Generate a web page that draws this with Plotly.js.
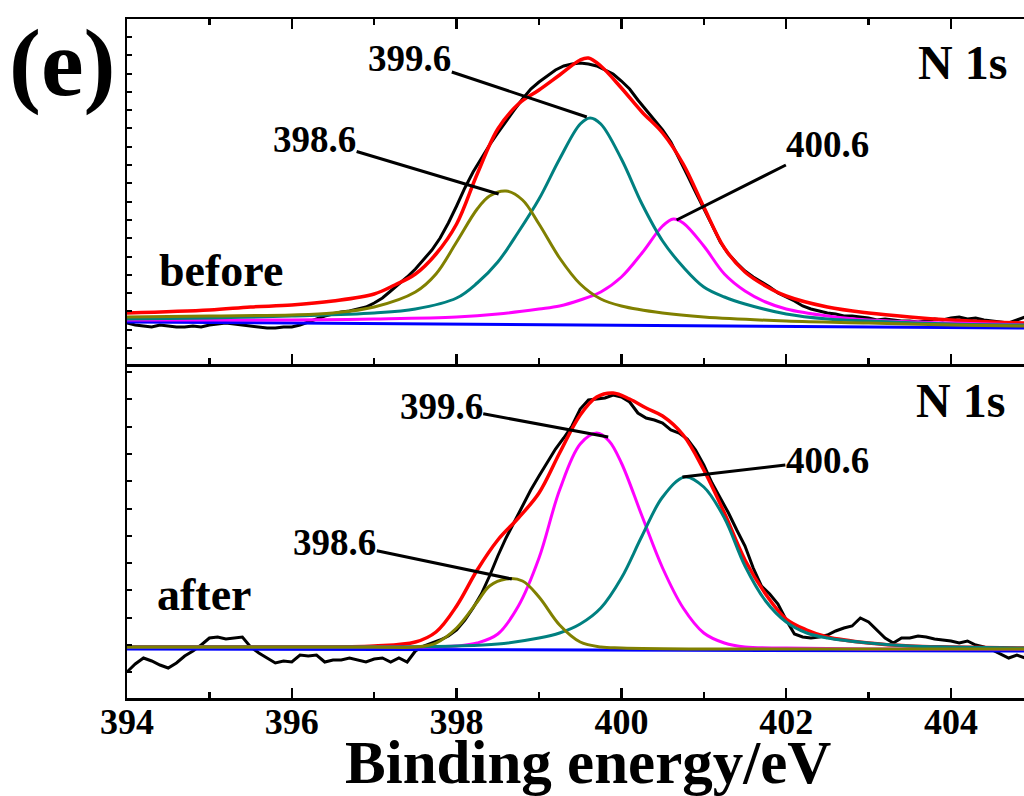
<!DOCTYPE html>
<html>
<head>
<meta charset="utf-8">
<script src="https://cdn.plot.ly/plotly-3.0.1.min.js"></script>
<style>html,body{margin:0;padding:0;background:#fff;}#chart{width:1024px;height:796px;}</style>
</head>
<body>
<div id="chart"></div>
<script>
// ---------- DATA ----------
// shared energy grid of the measured spectra (eV)
const energyGrid = [394.0,394.1,394.2,394.3,394.4,394.5,394.6,394.7,394.8,394.9,
395.0,395.1,395.2,395.3,395.4,395.5,395.6,395.7,395.8,395.9,
396.0,396.1,396.2,396.3,396.4,396.5,396.6,396.7,396.8,396.9,
397.0,397.1,397.2,397.3,397.4,397.5,397.6,397.7,397.8,397.9,
398.0,398.1,398.2,398.3,398.4,398.5,398.6,398.7,398.8,398.9,
399.0,399.1,399.2,399.3,399.4,399.5,399.6,399.7,399.8,399.9,
400.0,400.1,400.2,400.3,400.4,400.5,400.6,400.7,400.8,400.9,
401.0,401.1,401.2,401.3,401.4,401.5,401.6,401.7,401.8,401.9,
402.0,402.1,402.2,402.3,402.4,402.5,402.6,402.7,402.8,402.9,
403.0,403.1,403.2,403.3,403.4,403.5,403.6,403.7,403.8,403.9,
404.0,404.1,404.2,404.3,404.4,404.5,404.6,404.7,404.8,404.9];

// "before" panel (arbitrary intensity units)
const beforeMeasured = [41,39,38,37,39,38,37,37,38,37,
39,40,41,40,39,38,37,36,36,37,
37,39,42,45,48,50,52,53,55,57,
61,66,73,80,87,95,104,114,126,141,
158,176,192,206,219,231,243,254,265,275,
282,288,294,298,300,301,300,298,294,290,
283,275,264,254,243,234,222,206,189,172,
156,139,122,110,101,93,87,82,77,71,
67,63,58,55,53,51,50,48,48,47,
46,44,45,44,43,43,42,43,45,44,
46,47,45,46,44,43,42,41,44,47];

const beforeEnvE = [394,395,395.5,396,396.5,397,397.25,397.5,397.75,398,398.25,398.5,398.75,399,399.25,399.5,399.6,399.75,400,400.25,400.5,400.75,401,401.25,401.5,401.75,402,402.5,403,403.5,404,404.5,404.9];
const beforeEnvI = [51,54,57,59,63,70,79,90,110,140,190,235,260,274,289,304,306,298,276,252,231,200,157,116,92,78,68,57,51,47,44,42,41];

const before3986E = [394,395,396,396.5,397,397.5,397.75,398,398.25,398.4,398.6,398.8,399,399.25,399.5,399.75,400,400.5,401,402,403,404,404.9];
const before3986I = [47,48,49,51,57,72,90,122,155,168,173,164,140,106,80,65,58,51,47,43,41,39,38];

const before3996E = [394,395,396,397,397.5,398,398.25,398.5,398.75,399,399.25,399.5,399.62,399.75,400,400.25,400.5,400.75,401,401.25,401.5,402,402.5,403,404,404.9];
const before3996I = [45,46,48,51,55,66,81,102,132,165,205,240,246,240,205,160,123,97,77,67,60,50,45,43,40,39];

const before4006E = [394,396,397,398,398.5,399,399.25,399.5,399.75,400,400.25,400.5,400.63,400.75,401,401.25,401.5,401.75,402,402.5,403,404,404.9];
const before4006I = [44,44,45,47,50,55,58,64,72,87,111,138,145,141,118,90,73,62,55,48,44,41,39];

const beforeBaseE = [394,404.9];
const beforeBaseI = [42,36];

// "after" panel (arbitrary intensity units)
const afterMeasured = [26,34,40,37,33,30,35,42,47,53,
60,61,59,60,61,51,45,40,35,37,
36,43,42,43,36,38,38,40,38,36,
39,40,36,40,36,47,52,55,58,62,
68,78,90,104,122,142,160,176,192,208,
222,236,249,260,272,289,298,299,300,303,
301,296,285,280,278,275,268,265,259,248,
233,215,200,185,168,152,130,112,104,94,
78,64,61,60,61,63,67,70,72,80,
76,68,60,55,60,60,62,61,59,58,
57,55,57,53,51,48,44,40,43,40];

const afterEnvE = [394,396,397,397.5,397.75,398,398.25,398.5,398.75,399,399.25,399.5,399.7,399.9,400.1,400.3,400.5,400.75,401,401.25,401.5,401.75,402,402.25,402.5,403,403.5,404,404.9];
const afterEnvI = [51,51,52,56,66,92,128,158,180,205,245,283,301,305,299,290,282,263,228,185,138,104,79,68,61,55,52,51,50];

const after3986E = [394,397,397.5,397.75,398,398.25,398.4,398.6,398.8,399,399.25,399.5,399.75,400,401,402,403,404,404.9];
const after3986I = [51,51,51,55,70,96,112,119,117,101,73,56,51,50,49,49,49,49,49];

const after3996E = [394,397.5,398,398.25,398.5,398.75,399,399.25,399.5,399.7,399.85,400,400.25,400.5,400.75,401,401.25,401.5,402,403,404.9];
const after3996I = [51,51,52,55,64,92,140,208,254,265,257,235,182,130,90,65,55,51,50,49,49];

const after4006E = [394,397,398,398.5,399,399.25,399.5,399.75,400,400.25,400.5,400.77,401,401.25,401.5,401.75,402,402.25,402.5,403,403.5,404,404.9];
const after4006I = [51,51,52,54,60,65,74,90,120,162,201,221,211,180,132,97,76,65,60,55,52,51,50];

const afterBaseE = [394,404.9];
const afterBaseI = [49,47];

// peak labels and where their leader lines touch the curves
const peakLabels = ['398.6','399.6','400.6'];
const beforePointerE = [398.51, 399.58, 400.67];
const beforePointerI = [170, 247, 144];
const afterPointerE  = [398.67, 399.84, 400.74];
const afterPointerI  = [119, 261, 221];

const panelNames = ['before','after'];
const coreLevel = 'N 1s';
const panelTag = '(e)';
const xTitle = 'Binding energy/eV';
const xRange = [394, 404.886];

// ---------- STYLE ----------
const FONT = '"Liberation Serif", "Times New Roman", Times, serif';
const C = {env:'#FF0000', data:'#000000', p1:'#808000', p2:'#008080', p3:'#FF00FF', base:'#0000FF'};

function line(x, y, color, w, ax, shape){
  return {x:x, y:y, type:'scatter', mode:'lines', xaxis:ax[0], yaxis:ax[1],
    line:{color:color, width:w, shape:shape||'spline', smoothing:1}, hoverinfo:'skip'};
}
const TOP = ['x2','y2'], BOT = ['x','y'];

const traces = [
  line(energyGrid, beforeMeasured, C.data, 3, TOP, 'linear'),
  line(beforeEnvE, beforeEnvI, C.env, 3.5, TOP),
  line(beforeBaseE, beforeBaseI, C.base, 3, TOP, 'linear'),
  line(before4006E, before4006I, C.p3, 3, TOP),
  line(before3996E, before3996I, C.p2, 3, TOP),
  line(before3986E, before3986I, C.p1, 3, TOP),

  line(energyGrid, afterMeasured, C.data, 3, BOT, 'linear'),
  line(afterEnvE, afterEnvI, C.env, 3.5, BOT),
  line(afterBaseE, afterBaseI, C.base, 3, BOT, 'linear'),
  line(after3996E, after3996I, C.p3, 3, BOT),
  line(after4006E, after4006I, C.p2, 3, BOT),
  line(after3986E, after3986I, C.p1, 3, BOT)
];

// geometry helpers (page pixels -> paper coordinates)
const L = 127, R = 0, T = 19, B = 98, W = 1024, H = 796;
const PW = W - L - R, PH = H - T - B;
const px = v => (v - L) / PW;
const py = v => (H - B - v) / PH;
const split = py(364);

function txt(text, x, y, size){
  return {text:'<b>'+text+'</b>', x:px(x), y:py(y), xref:'paper', yref:'paper',
    showarrow:false, xanchor:'center', yanchor:'middle', borderpad:0,
    font:{family:FONT, size:size, color:'black', weight:'bold'}};
}
function pointer(label, e, i, axx, axy, dx, dy){
  return {text:'<b>'+label+'</b>', x:e, y:i, xref:axx, yref:axy,
    showarrow:true, arrowhead:0, arrowwidth:3, arrowcolor:'black',
    ax:dx, ay:dy, standoff:0, borderpad:0,
    font:{family:FONT, size:37, color:'black', weight:'bold'}};
}
const topOffsets = [[-184,-55],[-177,-59],[151,-76]];
const botOffsets = [[-177,-37],[-167,-31],[145,-17]];

const annotations = [
  txt(panelTag, 62, 62, 96),
  txt(coreLevel, 962, 62, 48),
  txt(coreLevel, 960, 400, 48),
  txt(panelNames[0], 221, 270, 46),
  txt(panelNames[1], 204, 594, 46),
  txt(xTitle, 588, 762, 61)
];
peakLabels.forEach((lab, k) => {
  annotations.push(pointer(lab, beforePointerE[k], beforePointerI[k], 'x2', 'y2', topOffsets[k][0], topOffsets[k][1]));
  annotations.push(pointer(lab, afterPointerE[k], afterPointerI[k], 'x', 'y', botOffsets[k][0], botOffsets[k][1]));
});

const xBase = {
  range:xRange, showline:true, linecolor:'black', linewidth:2.5,
  ticks:'inside', ticklen:10, tickwidth:2.5, tickcolor:'black',
  tick0:394, dtick:2,
  minor:{dtick:1, ticks:'inside', ticklen:6, tickwidth:2.5, tickcolor:'black', showgrid:false},
  showgrid:false, zeroline:false, fixedrange:true
};
const yBase = {
  showline:true, linecolor:'black', linewidth:2.5,
  ticks:'inside', ticklen:5, tickwidth:2, tickcolor:'black',
  showticklabels:false, showgrid:false, zeroline:false, fixedrange:true
};

const layout = {
  width:W, height:H,
  margin:{l:L, r:R, t:T, b:B, pad:0},
  paper_bgcolor:'white', plot_bgcolor:'white',
  showlegend:false,
  font:{family:FONT, color:'black'},
  xaxis:Object.assign({}, xBase, {anchor:'y', domain:[0,1], ticklabelstandoff:-10,
    tickfont:{family:FONT, size:36, color:'black', weight:'bold'}}),
  yaxis:Object.assign({}, yBase, {anchor:'x', domain:[0, split], range:[0,334], tick0:53, dtick:27.3}),
  xaxis2:Object.assign({}, xBase, {anchor:'y2', domain:[0,1], showticklabels:false, mirror:'ticks'}),
  yaxis2:Object.assign({}, yBase, {anchor:'x2', domain:[split, 1], range:[0,345], tick0:16, dtick:18.3}),
  annotations:annotations
};

Plotly.newPlot('chart', traces, layout, {displayModeBar:false, staticPlot:true});
</script>
</body>
</html>
